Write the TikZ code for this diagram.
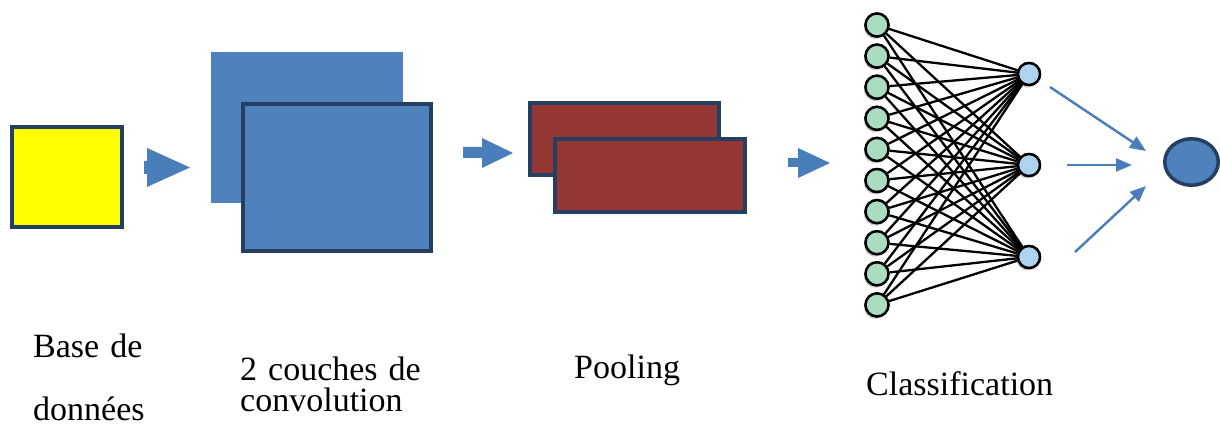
\documentclass[tikz,border=0pt]{standalone}
\usepackage{fontspec}
\setmainfont{Liberation Serif}
\usetikzlibrary{shapes.geometric,arrows.meta,shadows}
\definecolor{navy}{HTML}{243F60}
\definecolor{cblue}{HTML}{4F81BD}
\definecolor{ablue}{HTML}{4A7EBB}
\definecolor{cred}{HTML}{943634}
\definecolor{cgreen}{HTML}{AADCC2}
\definecolor{lblue}{HTML}{AED3EE}
\definecolor{cyellow}{HTML}{FFFF00}
\begin{document}
\begin{tikzpicture}[x=1pt,y=-1pt,
  boxstyle/.style={draw=navy,line width=4.5pt,inner sep=0pt,outer sep=0pt},
  plainbox/.style={inner sep=0pt,outer sep=0pt},
  blockarrow/.style={fill=ablue,draw=none},
  innode/.style={circle,draw=black,line width=2.4pt,fill=cgreen,minimum size=23pt,inner sep=0pt,
    drop shadow={shadow xshift=-1.5pt,shadow yshift=-2.5pt,opacity=0.35,fill=black!60}},
  hidnode/.style={circle,draw=black,line width=2.4pt,fill=lblue,minimum size=22pt,inner sep=0pt,
    drop shadow={shadow xshift=-1.5pt,shadow yshift=-2.5pt,opacity=0.35,fill=black!60}},
  innodetop/.style={circle,draw=black,line width=2.4pt,fill=cgreen,minimum size=23pt,inner sep=0pt},
  hidnodetop/.style={circle,draw=black,line width=2.4pt,fill=lblue,minimum size=22pt,inner sep=0pt},
  outnode/.style={ellipse,draw=navy,line width=3.5pt,fill=cblue,minimum width=53.5pt,minimum height=46.5pt,inner sep=0pt},
  netedge/.style={draw=black,line width=2.3pt},
  outarrow/.style={draw=ablue,line width=2.4pt,-{Triangle[length=16pt,width=13pt]}},
  label/.style={anchor=base west,inner sep=0pt,font=\fontsize{34}{40}\selectfont}
]
\useasboundingbox (0,0) rectangle (1220,427);
% Base de donnees
\node[boxstyle,fill=cyellow,minimum width=110pt,minimum height=100pt] (data) at (67,177) {};
% arrow 1
\path[blockarrow] (144,161) -- (147,161) -- (147,148) -- (190,167.5) -- (147,187) -- (147,174) -- (144,174) -- cycle;
% convolution
\node[plainbox,fill=cblue,minimum width=192pt,minimum height=151pt] (conv1) at (307,127.5) {};
\node[boxstyle,fill=cblue,minimum width=188pt,minimum height=147pt] (conv2) at (337,177.5) {};
% arrow 2
\path[blockarrow] (463,147) -- (482,147) -- (482,138) -- (513,153) -- (482,168) -- (482,158) -- (463,158) -- cycle;
% pooling
\node[boxstyle,fill=cred,minimum width=189pt,minimum height=72pt] (pool1) at (624.5,139) {};
\node[boxstyle,fill=cred,minimum width=190pt,minimum height=73pt] (pool2) at (650,175.5) {};
% arrow 3
\path[blockarrow] (788,158) -- (798,158) -- (798,148) -- (830,163) -- (798,178) -- (798,167) -- (788,167) -- cycle;
% network
\foreach \i in {0,...,9} {
  \node[innode] (in\i) at (877,{25+\i*31.1}) {};
}
\node[hidnode] (h0) at (1029,74) {};
\node[hidnode] (h1) at (1029,165) {};
\node[hidnode] (h2) at (1029,257) {};
\foreach \i in {0,...,9} {
  \foreach \j in {0,1,2} {
    \draw[netedge] (in\i) -- (h\j);
  }
}
\foreach \i in {0,...,9} { \node[innodetop] at (in\i) {}; }
\foreach \j in {0,1,2} { \node[hidnodetop] at (h\j) {}; }
\node[outnode] (out) at (1191.5,162) {};
\coordinate (a0s) at (1050,87);
\coordinate (a0e) at (1146,151);
\coordinate (a1s) at (1067,165);
\coordinate (a1e) at (1132,165);
\coordinate (a2s) at (1075,252);
\coordinate (a2e) at (1146,186);
\draw[outarrow] (a0s) -- (a0e);
\draw[outarrow] (a1s) -- (a1e);
\draw[outarrow] (a2s) -- (a2e);
% labels
\node[label] (t1) at (33,357) {Base\hspace{11pt}de};
\node[label] (t2) at (33,420) {données};
\node[label] (t3) at (240,380) {2\hspace{11pt}couches\hspace{11pt}de};
\node[label] (t4) at (240,411) {convolution};
\node[label] (t5) at (574,378) {Pooling};
\node[label] (t6) at (866,395) {Classification};
\end{tikzpicture}
\end{document}
